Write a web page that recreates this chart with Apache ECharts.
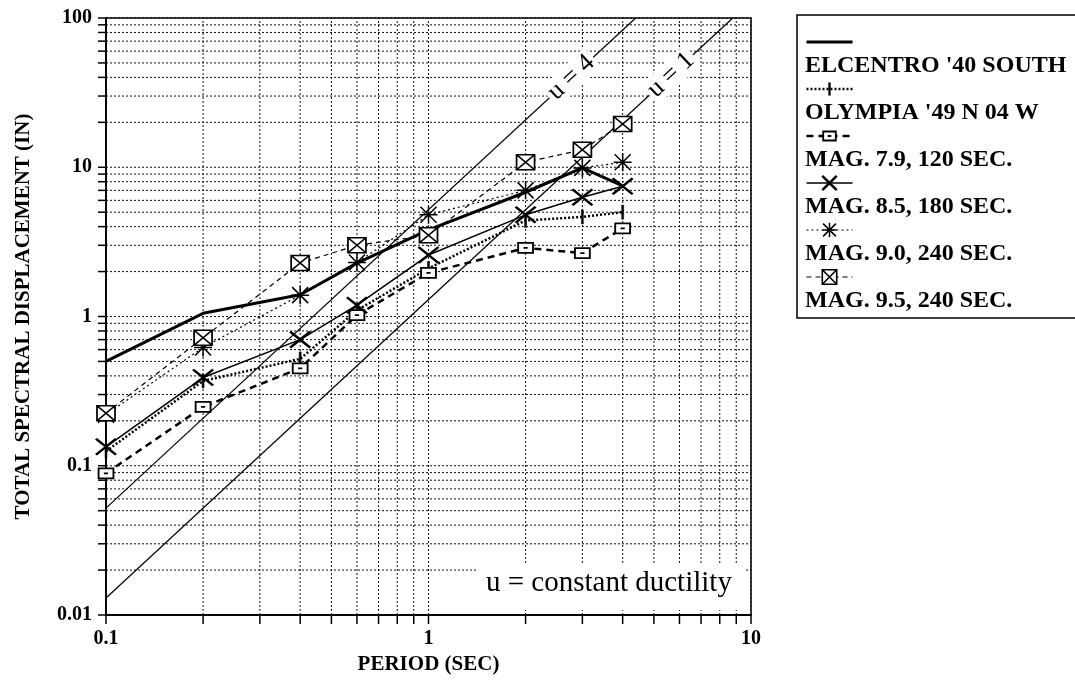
<!DOCTYPE html>
<html>
<head>
<meta charset="utf-8">
<script src="https://cdn.jsdelivr.net/npm/echarts@6/dist/echarts.min.js"></script>
<style>
  html, body { margin: 0; padding: 0; background: #fff; }
  #chart { width: 1075px; height: 687px; }
</style>
</head>
<body>
<div id="chart"></div>
<script>
// periods (sec) where the spectra were read
var periods = [0.1, 0.2, 0.4, 0.6, 1.0, 2.0, 3.0, 4.0];
// total spectral displacement (in)
var elcentro = [0.50, 1.05, 1.40, 2.28, 3.8, 6.8, 9.9, 7.5];
var olympia  = [0.125, 0.37, 0.52, 1.10, 2.10, 4.4, 4.65, 5.0];
var mag79    = [0.089, 0.248, 0.45, 1.02, 1.96, 2.88, 2.66, 3.9];
var mag85    = [0.134, 0.39, 0.70, 1.19, 2.58, 4.8, 6.3, 7.45];
var mag90    = [0.22, 0.62, 1.39, 2.30, 4.8, 7.0, 9.9, 10.8];
var mag95    = [0.225, 0.72, 2.28, 3.00, 3.5, 10.8, 13.1, 19.5];

// constant ductility lines (end points)
var u4x = [0.1, 4.39],  u4y = [0.052, 100];
var u1x = [0.1, 8.78],  u1y = [0.013, 100];
var u4LabelAt = [2.77, 40];
var u1LabelAt = [5.65, 41.5];

// log grid / tick values
var xTicks = [0.1, 0.2, 0.3, 0.4, 0.5, 0.6, 0.7, 0.8, 0.9, 1, 2, 3, 4, 5, 6, 7, 8, 9, 10];
var yTicks = [0.01, 0.02, 0.03, 0.04, 0.05, 0.06, 0.07, 0.08, 0.09,
              0.1, 0.2, 0.3, 0.4, 0.5, 0.6, 0.7, 0.8, 0.9,
              1, 2, 3, 4, 5, 6, 7, 8, 9,
              10, 20, 30, 40, 50, 60, 70, 80, 90, 100];
var X_MIN = 0.1, X_MAX = 10, Y_MIN = 0.01, Y_MAX = 100;

var names = ["ELCENTRO '40 SOUTH", "OLYMPIA '49 N 04 W", 'MAG. 7.9, 120 SEC.',
             'MAG. 8.5, 180 SEC.', 'MAG. 9.0, 240 SEC.', 'MAG. 9.5, 240 SEC.'];

var SERIF = "'Liberation Serif', 'Times New Roman', serif";

function zip(xs, ys) {
  return xs.map(function (x, i) { return [x, ys[i]]; });
}

var chart = echarts.init(document.getElementById('chart'));

function vGrid(params, api) {
  var v = api.value(0);
  var a = api.coord([v, Y_MIN]);
  var b = api.coord([v, Y_MAX]);
  return {
    type: 'group',
    children: [
      { type: 'line', shape: { x1: a[0], y1: a[1], x2: b[0], y2: b[1] },
        style: { stroke: '#111', lineWidth: 1, lineDash: [2, 2] } },
      { type: 'line', shape: { x1: a[0], y1: a[1], x2: a[0], y2: a[1] + 9 },
        style: { stroke: '#000', lineWidth: 1.5 } }
    ]
  };
}

function hGrid(params, api) {
  var v = api.value(1);
  var a = api.coord([X_MIN, v]);
  var b = api.coord([X_MAX, v]);
  return {
    type: 'group',
    children: [
      { type: 'line', shape: { x1: a[0], y1: a[1], x2: b[0], y2: b[1] },
        style: { stroke: '#111', lineWidth: 1, lineDash: [2, 2] } },
      { type: 'line', shape: { x1: a[0] - 8, y1: a[1], x2: a[0], y2: a[1] },
        style: { stroke: '#000', lineWidth: 1.5 } }
    ]
  };
}

var uLabel = {
  show: true,
  position: 'inside',
  rotate: 43,
  color: '#000',
  fontFamily: SERIF,
  fontSize: 26,
  backgroundColor: '#fff',
  padding: [0, 3]
};

var legendText = { fontFamily: SERIF, fontWeight: 'bold', fontSize: 24, lineHeight: 24 };

chart.setOption({
  animation: false,
  backgroundColor: '#fff',
  title: [{
    text: 'u = constant ductility',
    left: 478,
    top: 565,
    padding: [4, 14, 12, 8],
    backgroundColor: '#fff',
    textStyle: { fontFamily: SERIF, fontWeight: 'normal', fontSize: 29, color: '#000' }
  }],
  grid: {
    left: 106, top: 18, width: 645, height: 597,
    show: true, borderColor: '#000', borderWidth: 1.5
  },
  legend: [{
    // text part and frame
    data: names,
    orient: 'vertical',
    left: 797, top: 15,
    padding: [39, 120, 5, 3],
    icon: 'none',
    itemWidth: 0, itemHeight: 18, itemGap: 23,
    borderColor: '#000', borderWidth: 1.5,
    selectedMode: false,
    z: 3,
    textStyle: Object.assign({ color: '#000' }, legendText)
  }, {
    // line samples (text kept invisible so rows line up with the labels)
    data: names,
    orient: 'vertical',
    left: 805, top: 30,
    padding: 0,
    itemWidth: 46, itemHeight: 18, itemGap: 23,
    selectedMode: false,
    z: 5,
    textStyle: Object.assign({ color: 'rgba(0,0,0,0)' }, legendText),
    lineStyle: { width: 'inherit' },
    itemStyle: { borderWidth: 'inherit' }
  }],
  xAxis: {
    type: 'log', logBase: 10, min: X_MIN, max: X_MAX,
    name: 'PERIOD (SEC)', nameLocation: 'middle', nameGap: 36,
    nameTextStyle: { fontFamily: SERIF, fontWeight: 'bold', fontSize: 21, color: '#000' },
    axisLine: { lineStyle: { color: '#000', width: 2 } },
    axisTick: { show: false },
    splitLine: { show: false },
    axisLabel: { margin: 14, fontFamily: SERIF, fontWeight: 'bold', fontSize: 20, color: '#000' }
  },
  yAxis: {
    type: 'log', logBase: 10, min: Y_MIN, max: Y_MAX,
    name: 'TOTAL SPECTRAL DISPLACEMENT (IN)', nameLocation: 'middle', nameGap: 72,
    nameTextStyle: { fontFamily: SERIF, fontWeight: 'bold', fontSize: 21, color: '#000' },
    axisLine: { lineStyle: { color: '#000', width: 2 } },
    axisTick: { show: false },
    splitLine: { show: false },
    axisLabel: { margin: 14, fontFamily: SERIF, fontWeight: 'bold', fontSize: 20, color: '#000' }
  },
  series: [
    { type: 'custom', name: 'xgrid', silent: true, z: 1, clip: false,
      renderItem: vGrid, data: xTicks.map(function (v) { return [v, 1]; }) },
    { type: 'custom', name: 'ygrid', silent: true, z: 1, clip: false,
      renderItem: hGrid, data: yTicks.map(function (v) { return [1, v]; }) },
    { type: 'line', name: 'u = 4', silent: true, symbol: 'none', data: zip(u4x, u4y),
      lineStyle: { color: '#000', width: 1.2 },
      markPoint: { symbol: 'circle', symbolSize: 0, silent: true, label: Object.assign({ formatter: 'u = 4' }, uLabel),
                   data: [{ coord: u4LabelAt }] } },
    { type: 'line', name: 'u = 1', silent: true, symbol: 'none', data: zip(u1x, u1y),
      lineStyle: { color: '#000', width: 1.2 },
      markPoint: { symbol: 'circle', symbolSize: 0, silent: true, label: Object.assign({ formatter: 'u = 1' }, uLabel),
                   data: [{ coord: u1LabelAt }] } },
    { type: 'line', name: names[0], data: zip(periods, elcentro),
      symbol: 'circle', showSymbol: false,
      itemStyle: { color: 'rgba(0,0,0,0)', borderWidth: 0 },
      lineStyle: { color: '#000', width: 3 } },
    { type: 'line', name: names[1], data: zip(periods, olympia),
      symbol: 'path://M0,0M16,16M7,1H9V15H7Z', symbolSize: 16,
      itemStyle: { color: '#000', borderColor: '#000', borderWidth: 0.5 },
      lineStyle: { color: '#000', width: 2.5, type: [2, 2] } },
    { type: 'line', name: names[2], data: zip(periods, mag79),
      symbol: 'path://M0,0M16,16M1,3H15V13H1ZM6,8H10', symbolSize: [17, 16],
      itemStyle: { color: '#fff', borderColor: '#000', borderWidth: 1.8 },
      lineStyle: { color: '#000', width: 2.5, type: [7, 5] } },
    { type: 'line', name: names[3], data: zip(periods, mag85),
      symbol: 'path://M0,0L20,16M20,0L0,16', symbolSize: [20, 16],
      itemStyle: { color: '#000', borderColor: '#000', borderWidth: 2.5 },
      lineStyle: { color: '#000', width: 1.5 } },
    { type: 'line', name: names[4], data: zip(periods, mag90),
      symbol: 'path://M0,0L16,16M16,0L0,16M8,-1L8,17M-1,8L17,8', symbolSize: 18,
      itemStyle: { color: '#000', borderColor: '#000', borderWidth: 1.5 },
      lineStyle: { color: '#000', width: 1.2, type: [2, 3] } },
    { type: 'line', name: names[5], data: zip(periods, mag95),
      symbol: 'path://M1,2H17V16H1ZM1,2L17,16M17,2L1,16', symbolSize: [18, 15],
      itemStyle: { color: '#fff', borderColor: '#000', borderWidth: 1.6 },
      lineStyle: { color: '#000', width: 1.2, type: [5, 4] } }
  ]
});
</script>
</body>
</html>
